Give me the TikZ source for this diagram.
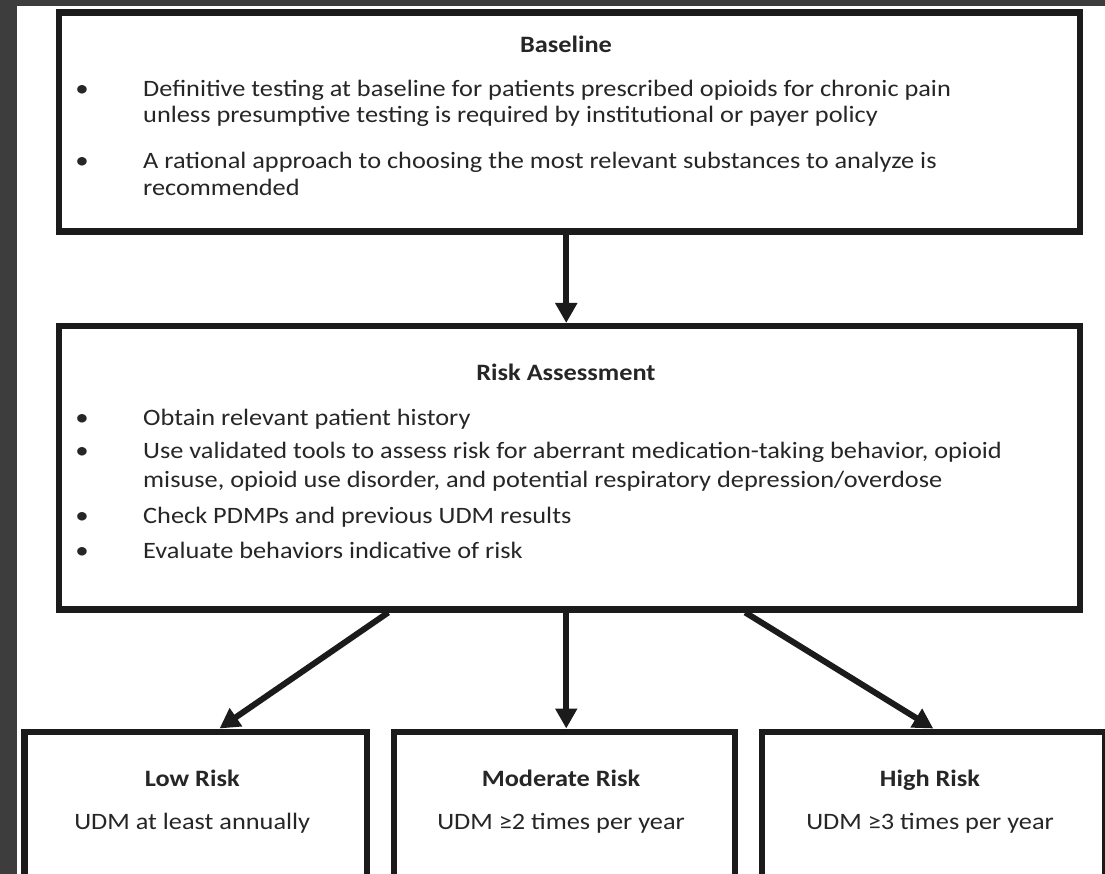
\documentclass[tikz,border=0pt]{standalone}
\usepackage{fontspec}
\setmainfont{Carlito}[FakeStretch=1.12]
\usetikzlibrary{arrows.meta}
\definecolor{boxc}{HTML}{1B1B1B}
\definecolor{txtc}{HTML}{262626}
\definecolor{bgdark}{HTML}{3D3D3D}
\begin{document}
\begin{tikzpicture}[x=1pt,y=-1pt,
  box/.style={draw=boxc, line width=6.5pt, inner sep=0pt, anchor=north west},
  arr/.style={draw=boxc, line width=6pt, -{Triangle[width=21pt,length=20pt]}},
  txt/.style={anchor=base west, inner sep=0pt, font=\fontsize{23.5}{28}\selectfont, text=txtc},
  ttl/.style={anchor=base, inner sep=0pt, font=\fontsize{23.5}{28}\selectfont\bfseries, text=txtc},
  sub/.style={anchor=base, inner sep=0pt, font=\fontsize{23.5}{28}\selectfont, text=txtc},
  bul/.style={anchor=base, inner sep=0pt, font=\fontsize{24}{28}\selectfont, text=txtc}]
\useasboundingbox (0,0) rectangle (1105,874);
\clip (0,0) rectangle (1105,874);
\fill[white] (0,0) rectangle (1105,874);
\fill[bgdark] (0,0) rectangle (1105,6);
\fill[bgdark] (0,0) rectangle (17,874);
% boxes
\node[box, minimum width=1021pt, minimum height=219pt] (base) at (55.5,9.5) {};
\node[box, minimum width=1021pt, minimum height=283pt] (risk) at (55.5,323) {};
\node[box, minimum width=342.5pt, minimum height=200pt] (low) at (21,728.5) {};
\node[box, minimum width=341pt, minimum height=200pt] (mod) at (390.5,728.5) {};
\node[box, minimum width=343pt, minimum height=200pt] (high) at (758.5,728.5) {};
% baseline text
\node[ttl] (bt) at (566,53) {Baseline};
\node[bul] (bb1) at (82,97) {\textbullet};
\node[txt] (b1a) at (143,97) {Definitive testing at baseline for patients prescribed opioids for chronic pain};
\node[txt] (b1b) at (143,123) {unless presumptive testing is required by institutional or payer policy};
\node[bul] (bb2) at (82,169) {\textbullet};
\node[txt] (b2a) at (143,169) {A rational approach to choosing the most relevant substances to analyze is};
\node[txt] (b2b) at (143,196) {recommended};
% risk text
\node[ttl] (rt) at (566,380) {Risk Assessment};
\node[bul] (rb1) at (82,425) {\textbullet};
\node[txt] (r1) at (143,425) {Obtain relevant patient history};
\node[bul] (rb2) at (82,458) {\textbullet};
\node[txt] (r2a) at (143,458) {Use validated tools to assess risk for aberrant medication-taking behavior, opioid};
\node[txt] (r2b) at (143,487) {misuse, opioid use disorder, and potential respiratory depression/overdose};
\node[bul] (rb3) at (82,523) {\textbullet};
\node[txt] (r3) at (143,523) {Check PDMPs and previous UDM results};
\node[bul] (rb4) at (82,558) {\textbullet};
\node[txt] (r4) at (143,558) {Evaluate behaviors indicative of risk};
% bottom texts
\node[ttl] (lt) at (192.25,786) {Low Risk};
\node[sub] (ls) at (192.25,829) {UDM at least annually};
\node[ttl] (mt) at (561,786) {Moderate Risk};
\node[sub] (ms) at (561,829) {UDM ≥2 times per year};
\node[ttl] (ht) at (930,786) {High Risk};
\node[sub] (hs) at (930,829) {UDM ≥3 times per year};
% arrows
\draw[arr] ([xshift=-3pt]base.south) -- ([xshift=-3pt]risk.north);
\draw[arr] ([xshift=-181pt]risk.south) -- ([xshift=24pt]low.north);
\draw[arr] ([xshift=-3pt]risk.south) -- ([xshift=2pt]mod.north);
\draw[arr] ([xshift=176pt]risk.south) -- (high.north);
\end{tikzpicture}
\end{document}
